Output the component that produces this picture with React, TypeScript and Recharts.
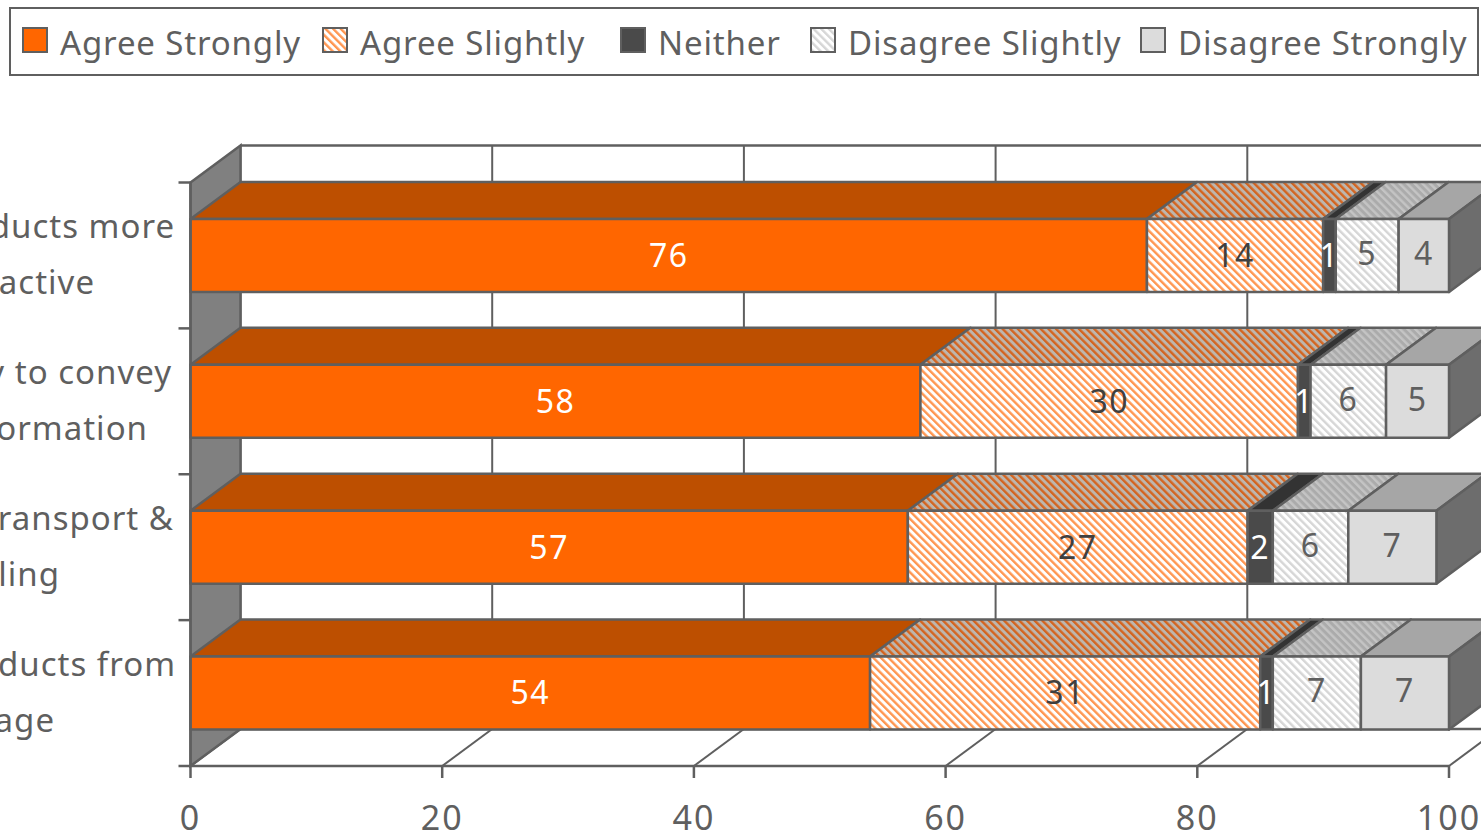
import React from "react";
import { BarChart, Bar, XAxis, YAxis, CartesianGrid, Legend, LabelList, ReferenceArea } from "recharts";

const WIDTH = 1481;
const HEIGHT = 836;
const FONT = "'Noto Sans', sans-serif";
const INK = "#5f5f5f";
const EDGE = 2.5;
const DEPTH_X = 50;
const DEPTH_Y = 37;
const PLOT_TOP = 182.5;
const PLOT_BOTTOM = 766;

const categoryFirstLines = ["Make products more", "Easy way to convey", "Makes transport &", "Protects products from"];
const categorySecondLines = ["attractive", "product information", "handling", "damage"];
const agreeStrongly = [76, 58, 57, 54];
const agreeSlightly = [14, 30, 27, 31];
const neither = [1, 1, 2, 1];
const disagreeSlightly = [5, 6, 6, 7];
const disagreeStrongly = [4, 5, 7, 7];
const xTicks = [0, 20, 40, 60, 80, 100];

// Right edge of each wrapped category line, per row.
const firstLineRight = [175, 172, 174, 176];
const secondLineRight = [95, 148, 60, 55];

const rows = categoryFirstLines.map((first, i) => ({
  category: `${first} ${categorySecondLines[i]}`,
  agreeStrongly: agreeStrongly[i],
  agreeSlightly: agreeSlightly[i],
  neither: neither[i],
  disagreeSlightly: disagreeSlightly[i],
  disagreeStrongly: disagreeStrongly[i],
}));

const series = [
  { key: "agreeStrongly", name: "Agree Strongly", front: "#FF6600", top: "#BD4F00", label: "#ffffff", lift: 0 },
  { key: "agreeSlightly", name: "Agree Slightly", front: "url(#hatchOrange)", top: "url(#hatchOrangeTop)", label: "#3f3f3f", lift: 0 },
  { key: "neither", name: "Neither", front: "#4A4A4A", top: "#333333", label: "#ffffff", lift: 0 },
  { key: "disagreeSlightly", name: "Disagree Slightly", front: "url(#hatchGrey)", top: "url(#hatchGreyTop)", label: INK, lift: -2 },
  { key: "disagreeStrongly", name: "Disagree Strongly", front: "#DCDCDC", top: "#A6A6A6", label: INK, side: "#6D6D6D", lift: -2 },
];

const legendSwatchX = [22, 322, 620, 810, 1140];
const legendTextX = [60, 360, 658, 848, 1178];

function Hatch({ id, base, stripe }: { id: string; base: string; stripe: string }) {
  return (
    <pattern id={id} width="5.4" height="5.4" patternUnits="userSpaceOnUse" patternTransform="rotate(-45)">
      <rect width="5.4" height="5.4" fill={base} />
      <rect width="2.4" height="5.4" fill={stripe} />
    </pattern>
  );
}

// A stacked segment drawn as a box: front rectangle, receding top and optional end cap.
function Cuboid(props: any) {
  const { x, y, width, height, front, top, side } = props;
  const common = { stroke: INK, strokeWidth: EDGE, strokeLinejoin: "round" as const };
  return (
    <g>
      <polygon
        points={`${x},${y} ${x + DEPTH_X},${y - DEPTH_Y} ${x + width + DEPTH_X},${y - DEPTH_Y} ${x + width},${y}`}
        fill={top}
        {...common}
      />
      {side && (
        <polygon
          points={`${x + width},${y} ${x + width + DEPTH_X},${y - DEPTH_Y} ${x + width + DEPTH_X},${y + height - DEPTH_Y} ${x + width},${y + height}`}
          fill={side}
          {...common}
        />
      )}
      <rect x={x} y={y} width={width} height={height} fill={front} {...common} />
    </g>
  );
}

// Left wall plus the top and bottom edges of the back wall.
function Walls(props: any) {
  const { x, y, width, height } = props;
  const backLeft = x + DEPTH_X;
  const backRight = x + width + DEPTH_X;
  return (
    <g>
      <polygon
        points={`${x},${y} ${backLeft},${y - DEPTH_Y} ${backLeft},${y + height - DEPTH_Y} ${x},${y + height}`}
        fill="#808080"
        stroke={INK}
        strokeWidth={EDGE}
      />
      <line x1={backLeft} x2={backRight} y1={y - DEPTH_Y} y2={y - DEPTH_Y} stroke={INK} strokeWidth={EDGE} />
      <line x1={backLeft} x2={backRight} y1={y + height - DEPTH_Y} y2={y + height - DEPTH_Y} stroke={INK} strokeWidth={EDGE} />
    </g>
  );
}

// Each grid line runs up the back wall and has a diagonal across the floor.
function GridLine(props: any) {
  const { x1, y1, y2 } = props;
  const top = Math.min(y1, y2);
  const bottom = Math.max(y1, y2);
  return (
    <g>
      <line x1={x1 + DEPTH_X} x2={x1 + DEPTH_X} y1={top - DEPTH_Y} y2={bottom - DEPTH_Y} stroke={INK} strokeWidth={2} />
      <line x1={x1} x2={x1 + DEPTH_X} y1={bottom} y2={bottom - DEPTH_Y} stroke={INK} strokeWidth={2} />
    </g>
  );
}

function CategoryTick(props: any) {
  const { y, index } = props;
  const band = (PLOT_BOTTOM - PLOT_TOP) / rows.length;
  const axisX = 190.5;
  const textStyle = { fontFamily: FONT, fontSize: 33, letterSpacing: 1, fill: INK, textAnchor: "end" as const };
  return (
    <g>
      <line x1={axisX - 12} x2={axisX} y1={y - band / 2} y2={y - band / 2} stroke={INK} strokeWidth={EDGE} />
      {index === rows.length - 1 && (
        <line x1={axisX - 12} x2={axisX} y1={y + band / 2} y2={y + band / 2} stroke={INK} strokeWidth={EDGE} />
      )}
      <text x={firstLineRight[index]} y={y - 28 + 11} {...textStyle}>{categoryFirstLines[index]}</text>
      <text x={secondLineRight[index]} y={y + 28 + 11} {...textStyle}>{categorySecondLines[index]}</text>
    </g>
  );
}

function LegendBox(props: any) {
  return (
    <div style={{ position: "relative", width: 1470, height: 69, boxSizing: "border-box", border: `2px solid ${INK}`, background: "#fff" }}>
      {(props.payload ?? []).map((item: any) => {
        const i = series.findIndex((s) => s.name === item.value);
        return (
          <React.Fragment key={item.value}>
            <svg width={26} height={26} style={{ position: "absolute", left: legendSwatchX[i] - 11, top: 18 }}>
              <rect x={1} y={1} width={24} height={24} fill={series[i].front} stroke={INK} strokeWidth={2} />
            </svg>
            <span
              style={{
                position: "absolute",
                left: legendTextX[i] - 11,
                top: 13,
                fontFamily: FONT,
                fontSize: 33,
                letterSpacing: 0.85,
                lineHeight: "42px",
                color: INK,
                whiteSpace: "nowrap",
              }}
            >
              {item.value}
            </span>
          </React.Fragment>
        );
      })}
    </div>
  );
}

export default function App() {
  return (
    <div style={{ position: "absolute", left: 0, top: 0, width: WIDTH, height: HEIGHT, overflow: "hidden", background: "#fff" }}>
      <BarChart
        width={WIDTH}
        height={HEIGHT}
        data={rows}
        layout="vertical"
        barCategoryGap="25%"
        margin={{ top: PLOT_TOP, right: 32, bottom: 0, left: 0 }}
      >
        <defs>
          <Hatch id="hatchOrange" base="#FFFFFF" stripe="#FF9650" />
          <Hatch id="hatchOrangeTop" base="#BDB6AE" stripe="#D4641F" />
          <Hatch id="hatchGrey" base="#FFFFFF" stripe="#D6D6D6" />
          <Hatch id="hatchGreyTop" base="#ABABAB" stripe="#C4C4C4" />
        </defs>
        <ReferenceArea x1={0} x2={100} shape={Walls} />
        <CartesianGrid horizontal={false} vertical={GridLine} />
        <XAxis
          type="number"
          domain={[0, 100]}
          ticks={xTicks}
          interval={0}
          height={70}
          axisLine={{ stroke: INK, strokeWidth: EDGE }}
          tickLine={{ stroke: INK, strokeWidth: EDGE }}
          tickSize={12}
          tickMargin={28}
          tick={{ fill: INK, fontSize: 34, fontFamily: FONT, letterSpacing: 2 }}
        />
        <YAxis
          type="category"
          dataKey="category"
          width={190.5}
          interval={0}
          axisLine={{ stroke: INK, strokeWidth: EDGE }}
          tickLine={false}
          tick={CategoryTick}
        />
        <Legend
          layout="horizontal"
          verticalAlign="middle"
          content={LegendBox}
          wrapperStyle={{ left: 9, top: 7, width: 1470, height: 69 }}
        />
        {series.map((s) => (
          <Bar
            key={s.key}
            dataKey={s.key}
            name={s.name}
            stackId="rows"
            fill={s.front}
            isAnimationActive={false}
            shape={(p: any) => <Cuboid {...p} front={s.front} top={s.top} side={s.side} />}
          >
            <LabelList dataKey={s.key} position="center" fill={s.label} fontSize={32} fontFamily={FONT} letterSpacing={1.5} dy={s.lift} />
          </Bar>
        ))}
      </BarChart>
    </div>
  );
}
